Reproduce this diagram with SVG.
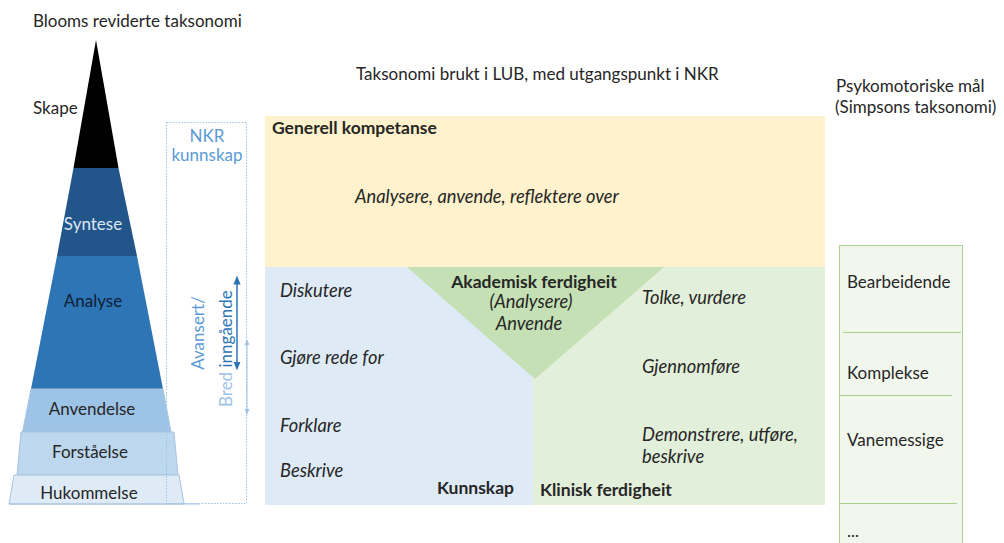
<svg xmlns="http://www.w3.org/2000/svg" width="1004" height="543" viewBox="0 0 1004 543">
  <style>
    text { font-family: "Lato", "Open Sans", sans-serif; fill: #262626; font-size: 17px; }
    .b { font-weight: bold; font-size: 17.5px; }
    .i { font-style: italic; font-size: 18.3px; }
    .mid { text-anchor: middle; }
    .nkr { fill: #5b9bd5; }
    .band { stroke: #a8c4e0; stroke-width: 1; }
  </style>
  <defs>
    <marker id="headDark" viewBox="0 0 10 10" refX="5" refY="5" markerWidth="6" markerHeight="6" orient="auto-start-reverse">
      <path d="M0,1 L10,5 L0,9 z" fill="#2e75b6"/>
    </marker>
    <marker id="headLight" viewBox="0 0 10 10" refX="5" refY="5" markerWidth="6" markerHeight="6" orient="auto-start-reverse">
      <path d="M0,1 L10,5 L0,9 z" fill="#9dc3e6"/>
    </marker>
  </defs>

  <rect width="1004" height="543" fill="#ffffff"/>

  <!-- Bloom pyramid -->
  <g id="bloom">
    <text x="33" y="27">Blooms reviderte taksonomi</text>
    <polygon points="96,40 118.5,168 73.5,168" fill="#000000"/>
    <polygon points="73.5,168 118.5,168 137,256 57,256" fill="#22568a"/>
    <polygon points="57,256 137,256 163,389 31,389" fill="#2e75b6"/>
    <polygon class="band" points="31,389 163,389 171,432 22.5,432" fill="#9dc3e6"/>
    <polygon class="band" points="21,432 174,432 178,475 17,475" fill="#bdd7ee"/>
    <polygon class="band" points="14,475 179,475 184,504 9,504" fill="#deebf7"/>
    <line x1="9" y1="504" x2="200" y2="504" stroke="#a8c4e0" stroke-width="1"/>
    <text x="33" y="114">Skape</text>
    <text class="mid" x="93" y="230" style="fill:#dbe6f2">Syntese</text>
    <text class="mid" x="93" y="307" style="fill:#0d2035">Analyse</text>
    <text class="mid" x="92" y="415">Anvendelse</text>
    <text class="mid" x="90" y="458">Forståelse</text>
    <text class="mid" x="89" y="499">Hukommelse</text>
  </g>

  <!-- NKR knowledge levels -->
  <g id="nkr">
    <rect x="166.5" y="122.5" width="80" height="381" fill="none" stroke="#9dc3e6" stroke-width="1" stroke-dasharray="1.5,1.5"/>
    <text class="mid nkr" x="207" y="142">NKR</text>
    <text class="mid nkr" x="207" y="161">kunnskap</text>
    <text class="mid nkr" transform="translate(204,333) rotate(-90)">Avansert/</text>
    <text transform="translate(232,407) rotate(-90)"><tspan style="fill:#9dc3e6">Bred </tspan><tspan style="fill:#2e75b6">inngående</tspan></text>
  </g>

  <!-- Connectors -->
  <g id="connectors">
    <line x1="237" y1="280" x2="237" y2="366" stroke="#2e75b6" stroke-width="1.5" marker-start="url(#headDark)" marker-end="url(#headDark)"/>
    <line x1="247" y1="342" x2="247" y2="412" stroke="#9dc3e6" stroke-width="1" marker-start="url(#headLight)" marker-end="url(#headLight)"/>
  </g>

  <!-- LUB taxonomy -->
  <g id="lub-title">
    <text x="356" y="80">Taksonomi brukt i LUB, med utgangspunkt i NKR</text>
  </g>

  <g id="generell">
    <rect x="265" y="116" width="560" height="151" fill="#fff2cc"/>
    <text class="b" x="272" y="134">Generell kompetanse</text>
    <text class="i" x="355" y="203">Analysere, anvende, reflektere over</text>
  </g>

  <g id="kunnskap">
    <rect x="265" y="267" width="268" height="238" fill="#deebf7"/>
    <text class="i" x="280" y="297">Diskutere</text>
    <text class="i" x="280" y="364">Gjøre rede for</text>
    <text class="i" x="280" y="432">Forklare</text>
    <text class="i" x="280" y="477">Beskrive</text>
    <text class="b" x="437" y="494">Kunnskap</text>
  </g>

  <g id="klinisk">
    <rect x="533" y="267" width="292" height="238" fill="#e2efda"/>
    <text class="i" x="642" y="304">Tolke, vurdere</text>
    <text class="i" x="642" y="373">Gjennomføre</text>
    <text class="i" x="642" y="441">Demonstrere, utføre,</text>
    <text class="i" x="642" y="463">beskrive</text>
    <text class="b" x="540" y="496">Klinisk ferdigheit</text>
  </g>

  <g id="akademisk">
    <polygon points="407,267 664,267 535,379" fill="#c5e0b4"/>
    <text class="b mid" x="534" y="288">Akademisk ferdigheit</text>
    <text class="i mid" x="531" y="308">(Analysere)</text>
    <text class="i mid" x="529" y="330">Anvende</text>
  </g>

  <!-- Simpson psychomotor taxonomy -->
  <g id="simpson">
    <text x="836" y="92">Psykomotoriske mål</text>
    <text x="835" y="113">(Simpsons taksonomi)</text>
    <path d="M839.5,543 V245.5 H962.5 V543" fill="#f2f7ee" stroke="#a9d18e" stroke-width="1"/>
    <line x1="843" y1="332.5" x2="961" y2="332.5" stroke="#a9d18e"/>
    <line x1="840" y1="395.5" x2="952" y2="395.5" stroke="#a9d18e"/>
    <line x1="840" y1="503.5" x2="957" y2="503.5" stroke="#a9d18e"/>
    <text x="847" y="288">Bearbeidende</text>
    <text x="847" y="379">Komplekse</text>
    <text x="847" y="446">Vanemessige</text>
    <text x="847" y="537">...</text>
  </g>
</svg>
